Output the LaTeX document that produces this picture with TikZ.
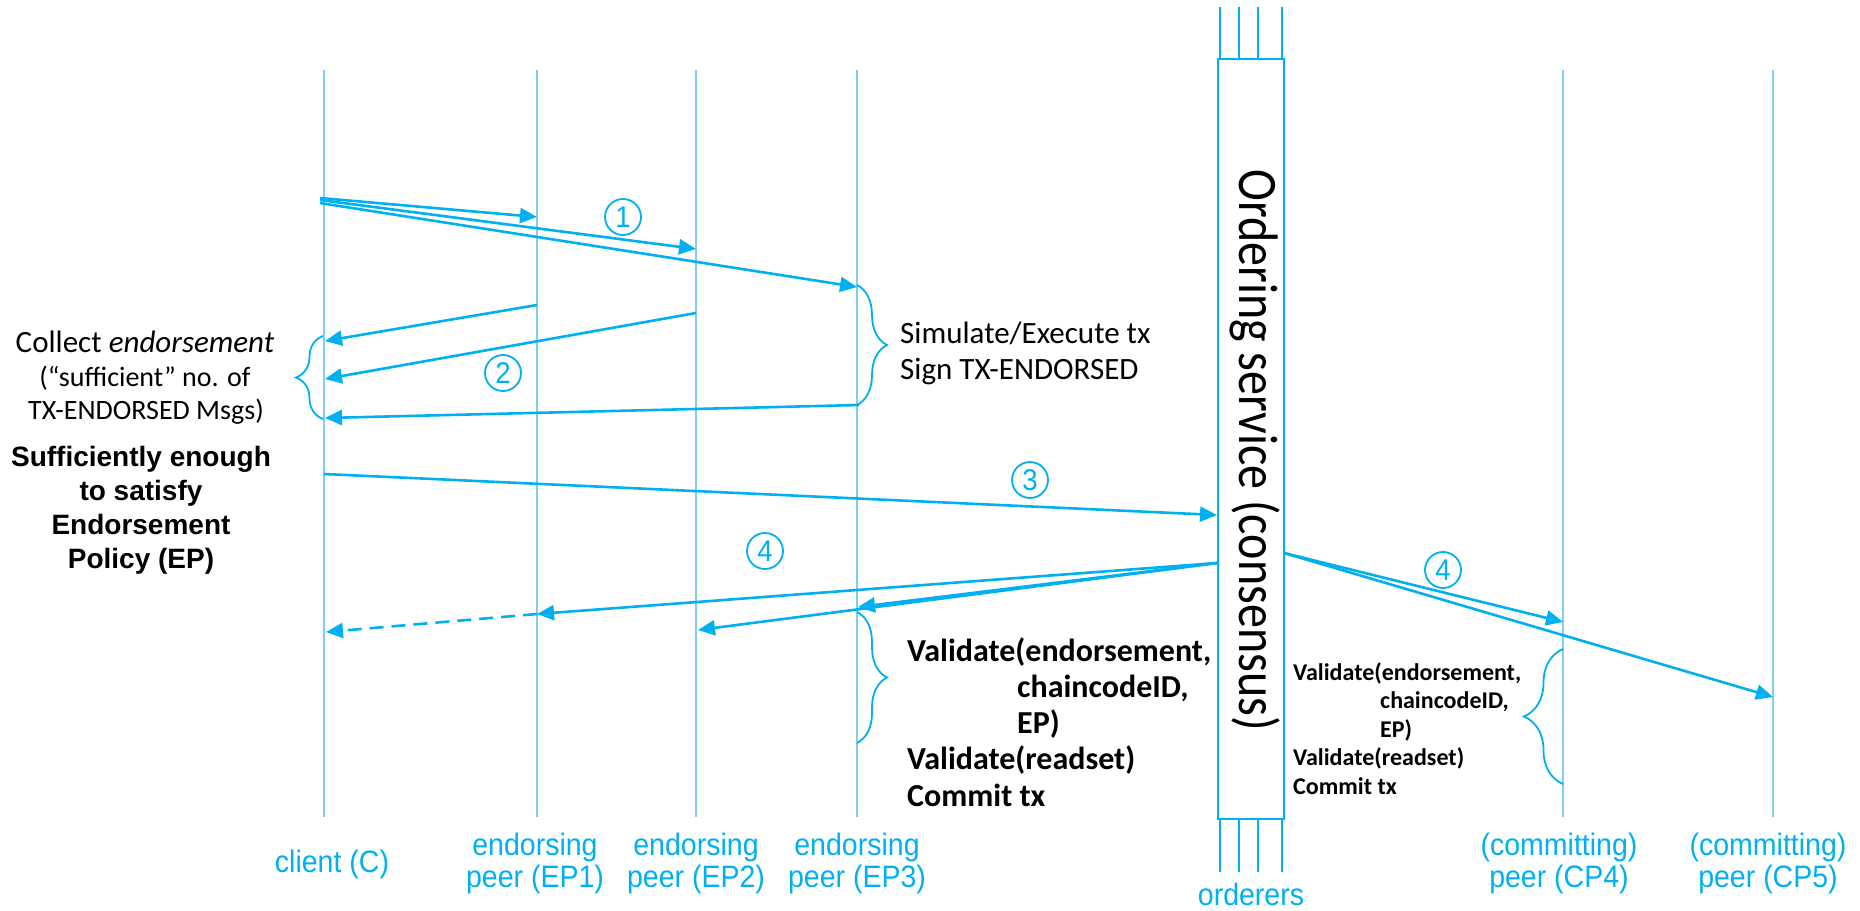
\documentclass[tikz,border=0pt]{standalone}
\usepackage{fontspec}
\usepackage{graphicx}
\setmainfont{Carlito}
\newfontfamily\arialfont{Liberation Sans}
\newfontfamily\narrowfont[FakeStretch=0.92]{Liberation Sans}
\usetikzlibrary{arrows.meta,decorations.pathreplacing}
\definecolor{sky}{RGB}{0,176,240}
\definecolor{lifeblue}{RGB}{130,205,242}

\begin{document}
\begin{tikzpicture}[x=1pt,y=-1pt,
  life/.style={draw=lifeblue, line width=1.6pt},
  msg/.style={draw=sky, line width=2.6pt, -{Triangle[length=17pt,width=15pt]}},
  dmsg/.style={msg, dash pattern=on 14pt off 8pt},
  curly/.style={draw=sky, line width=1.8pt, decorate,
    decoration={brace, amplitude=#1, aspect=0.5}},
  stepno/.style={circle, draw=sky, line width=1.8pt, minimum size=36pt,
    inner sep=0pt, text=sky, font=\narrowfont\fontsize{30}{30}\selectfont},
  peerlabel/.style={anchor=base, text=sky, inner sep=0pt,
    font=\narrowfont\fontsize{31}{31}\selectfont},
  ordline/.style={draw=sky, line width=2.6pt},
  plain/.style={anchor=base, inner sep=0pt, font=\fontsize{31}{31}\selectfont},
  note/.style={anchor=base, inner sep=0pt, font=\fontsize{28}{28}\selectfont},
  policy/.style={anchor=base, inner sep=0pt, font=\arialfont\bfseries\fontsize{28}{28}\selectfont},
  checkbig/.style={anchor=base west, inner sep=0pt, font=\bfseries\fontsize{32}{32}\selectfont},
  checksmall/.style={anchor=base west, inner sep=0pt, font=\bfseries\fontsize{24}{24}\selectfont},
]
\useasboundingbox (0,0) rectangle (1860,910);

% lifelines of the client and the peers
\foreach \n/\x in {C/324, E1/537, E2/696, E3/857, P4/1563, P5/1773}{
  \coordinate (\n-top) at (\x,70);
  \coordinate (\n-bot) at (\x,817);
  \draw[life] (\n-top) -- (\n-bot);
}

% ordering service box with the orderer lines above and below
\node[draw=sky, line width=2.8pt, minimum width=66pt, minimum height=760pt,
  inner sep=0pt] (ord) at (1251,439) {};
\foreach \x in {1220,1239,1258,1282}{
  \draw[ordline] (\x,7) -- (\x,59);
  \draw[ordline] (\x,819) -- (\x,872);
}
\node[rotate=-90, anchor=base, inner sep=0pt] (ordtxt) at (1239,450)
  {\scalebox{1}[1.16]{\fontsize{48}{48}\selectfont Ordering service (consensus)}};

% step 1: client sends the proposal to the endorsing peers
\coordinate (c1a) at (320,198);
\coordinate (c1b) at (320,200);
\coordinate (c1c) at (320,203);
\coordinate (e1in) at (537,217);
\coordinate (e2in) at (696,249);
\coordinate (e3in) at (857,287);
\draw[msg] (c1a) -- (e1in);
\draw[msg] (c1b) -- (e2in);
\draw[msg] (c1c) -- (e3in);
\node[stepno] (n1) at (623,217) {1};

% endorsing peer EP3 simulates and signs
\draw[curly=30pt] (857,285) -- (857,405);
\node[plain, anchor=base west] (sim) at (900,343) {Simulate/Execute tx};
\node[plain, anchor=base west] (sign) at (900,379) {Sign TX-ENDORSED};

% step 2: endorsements come back to the client
\coordinate (e1out) at (537,305);
\coordinate (e2out) at (696,313);
\coordinate (e3out) at (859,405);
\coordinate (cin1) at (325,341);
\coordinate (cin2) at (325,379);
\coordinate (cin3) at (325,418);
\draw[msg] (e1out) -- (cin1);
\draw[msg] (e2out) -- (cin2);
\draw[msg] (e3out) -- (cin3);
\node[stepno] (n2) at (503,373) {2};

% client collects the endorsements
\draw[curly=27pt] (323,419) -- (323,336);
\node[plain] (collect) at (145,352) {Collect \textit{endorsement}};
\node[note] (suff) at (145,386) {(“sufficient” no. of};
\node[note] (msgs) at (146,419) {TX-ENDORSED Msgs)};
\node[policy] (pol1) at (141,466) {Sufficiently enough};
\node[policy] (pol2) at (141,500) {to satisfy};
\node[policy] (pol3) at (141,534) {Endorsement};
\node[policy] (pol4) at (141,568) {Policy (EP)};

% step 3: client submits the endorsed transaction for ordering
\coordinate (c3) at (324,474);
\coordinate (o3) at (1217,515);
\draw[msg] (c3) -- (o3);
\node[stepno] (n3) at (1030,480) {3};

% step 4: ordered transaction is delivered to all peers
\coordinate (oL) at (1217,563);
\coordinate (e1d) at (537,614);
\coordinate (cd) at (326,632);
\coordinate (e2d) at (698,630);
\coordinate (e3d) at (858,607);
\draw[msg] (oL) -- (e1d);
\draw[dmsg] (e1d) -- (cd);
\draw[msg] (oL) -- (e2d);
\draw[msg] (oL) -- (e3d);
\node[stepno] (n4a) at (765,551) {4};

\coordinate (oR) at (1284,553);
\coordinate (p4d) at (1563,622);
\coordinate (p5d) at (1773,697);
\draw[msg] (oR) -- (p4d);
\draw[msg] (oR) -- (p5d);
\node[stepno] (n4b) at (1443,570) {4};

% validation and commit at the endorsing peer
\draw[curly=30pt] (857,612) -- (857,743);
\node[checkbig] (v1) at (907,661) {Validate(endorsement,};
\node[checkbig] (v2) at (1017,697) {chaincodeID,};
\node[checkbig] (v3) at (1017,733) {EP)};
\node[checkbig] (v4) at (907,769) {Validate(readset)};
\node[checkbig] (v5) at (907,806) {Commit tx};

% validation and commit at the committing peer
\draw[curly=39pt] (1563,784) -- (1563,649);
\node[checksmall] (w1) at (1293,680) {Validate(endorsement,};
\node[checksmall] (w2) at (1380,708) {chaincodeID,};
\node[checksmall] (w3) at (1380,737) {EP)};
\node[checksmall] (w4) at (1293,765) {Validate(readset)};
\node[checksmall] (w5) at (1293,794) {Commit tx};

% role labels
\node[peerlabel] (lc) at (332,872) {client (C)};
\node[peerlabel] (l1a) at (535,855) {endorsing};
\node[peerlabel] (l1b) at (535,887) {peer (EP1)};
\node[peerlabel] (l2a) at (696,855) {endorsing};
\node[peerlabel] (l2b) at (696,887) {peer (EP2)};
\node[peerlabel] (l3a) at (857,855) {endorsing};
\node[peerlabel] (l3b) at (857,887) {peer (EP3)};
\node[peerlabel] (lo) at (1251,905) {orderers};
\node[peerlabel] (l4a) at (1559,855) {(committing)};
\node[peerlabel] (l4b) at (1559,887) {peer (CP4)};
\node[peerlabel] (l5a) at (1768,855) {(committing)};
\node[peerlabel] (l5b) at (1768,887) {peer (CP5)};
\end{tikzpicture}
\end{document}
